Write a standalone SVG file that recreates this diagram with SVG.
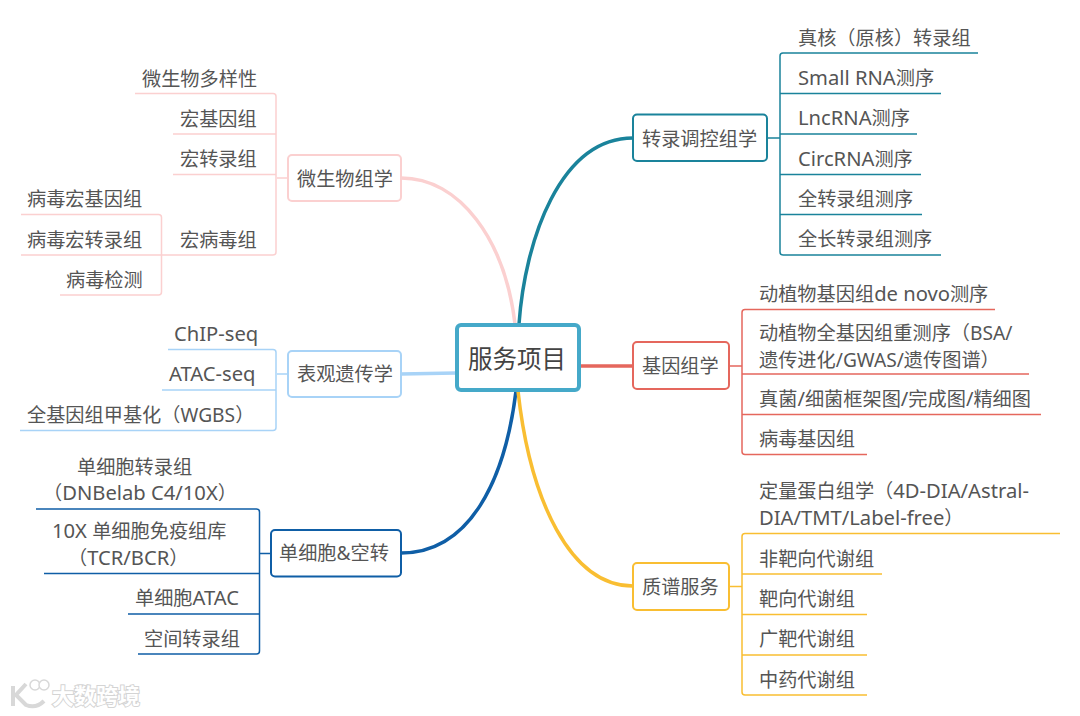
<svg xmlns="http://www.w3.org/2000/svg" width="1080" height="716" viewBox="0 0 1080 716">
<style>
text{font-family:"Noto Sans","Noto Sans CJK SC",sans-serif;font-size:19.2px;fill:#555}
tspan{font-size:20.2px}
.b{fill:#fff;stroke-width:2}
.l{fill:none;stroke-width:1.5}
.m{fill:none;stroke-width:3.5;stroke-linecap:round}
.pink{stroke:#fbd0d0}.sky{stroke:#a8d3f7}.navy{stroke:#0f5ea6}.teal{stroke:#1a839b}.red{stroke:#e5675d}.gold{stroke:#f9be32}
</style>
<rect width="1080" height="716" fill="#fff"/>
<g id="connectors">
<path class="m pink" d="M515 324C505 240 460 178 401 178"/>
<path class="m sky" d="M456 373L401 374"/>
<path class="m navy" d="M516 391C505 480 470 553 401 553"/>
<path class="m teal" d="M519 324C525 240 560 138 633 138"/>
<path class="m red" d="M580 366L633 366"/>
<path class="m gold" d="M518 391C530 500 570 586 633 586"/>
<path class="l pink" d="M135 93.5H273a3 3 0 0 1 3 3V252a3 3 0 0 1-3 3H21M173 134H276M173 174.500H276M277 178H288M21 214.500H158.500a3 3 0 0 1 3 3V292a3 3 0 0 1-3 3H60"/>
<path class="l sky" d="M168 349.500H273a3 3 0 0 1 3 3V427.500a3 3 0 0 1-3 3H20M162 390H276M277 374H288"/>
<path class="l navy" d="M36 509H256.500a3 3 0 0 1 3 3V651a3 3 0 0 1-3 3H138M44 573.500H259M128 614H259M260 553.500H271"/>
<path class="l teal" d="M978 53H783a3 3 0 0 0-3 3V252a3 3 0 0 0 3 3H941M941 93.500H780M917 134H780M921 174.500H780M922 214.500H780M767 138H780"/>
<path class="l red" d="M995 309.500H745a3 3 0 0 0-3 3V451.500a3 3 0 0 0 3 3H867M1029 374H742M1041 414.500H742M729 366H742"/>
<path class="l gold" d="M1060 533.500H745a3 3 0 0 0-3 3V692a3 3 0 0 0 3 3H867M882 574H742M867 614.500H742M867 655H742M729 586.500H742"/>
</g>
<g id="root"><rect x="457" y="325" width="122" height="65" rx="4" fill="#fff" stroke="#45a9c9" stroke-width="4"/><text x="468" y="368" style="font-size:24.500px;fill:#444">服务项目</text></g>
<g id="n-microbe"><rect class="b pink" x="288" y="155" width="113" height="46" rx="4"/><text x="297" y="186">微生物组学</text></g>
<g id="n-micro-1"><text x="142" y="85.500">微生物多样性</text></g>
<g id="n-micro-2"><text x="180" y="125.500">宏基因组</text></g>
<g id="n-micro-3"><text x="180" y="166">宏转录组</text></g>
<g id="n-micro-4"><text x="180" y="246.500">宏病毒组</text></g>
<g id="n-virus-1"><text x="27" y="206">病毒宏基因组</text></g>
<g id="n-virus-2"><text x="27" y="246.500">病毒宏转录组</text></g>
<g id="n-virus-3"><text x="66" y="287">病毒检测</text></g>
<g id="n-epi"><rect class="b sky" x="288" y="351" width="113" height="46" rx="4"/><text x="297" y="381">表观遗传学</text></g>
<g id="n-epi-1"><text x="174" y="341"><tspan>ChIP-seq</tspan></text></g>
<g id="n-epi-2"><text x="169" y="381"><tspan>ATAC-seq</tspan></text></g>
<g id="n-epi-3"><text x="27" y="422">全基因组甲基化（WGBS）</text></g>
<g id="n-sc"><rect class="b navy" x="271" y="530" width="130" height="46.500" rx="4"/><text x="279" y="560">单细胞&amp;空转</text></g>
<g id="n-sc-1"><text x="77" y="474">单细胞转录组</text><text x="43" y="500">（<tspan>DNBelab C4/10X</tspan>）</text></g>
<g id="n-sc-2"><text x="52" y="538"><tspan>10X </tspan>单细胞免疫组库</text><text x="68" y="565">（<tspan>TCR/BCR</tspan>）</text></g>
<g id="n-sc-3"><text x="135" y="605">单细胞<tspan>ATAC</tspan></text></g>
<g id="n-sc-4"><text x="144" y="646">空间转录组</text></g>
<g id="n-trans"><rect class="b teal" x="633" y="114.500" width="134" height="46.500" rx="4"/><text x="642" y="146">转录调控组学</text></g>
<g id="n-trans-1"><text x="798" y="45">真核（原核）转录组</text></g>
<g id="n-trans-2"><text x="798" y="84.500"><tspan>Small RNA</tspan>测序</text></g>
<g id="n-trans-3"><text x="798" y="125"><tspan>LncRNA</tspan>测序</text></g>
<g id="n-trans-4"><text x="798" y="166"><tspan>CircRNA</tspan>测序</text></g>
<g id="n-trans-5"><text x="798" y="206">全转录组测序</text></g>
<g id="n-trans-6"><text x="798" y="246">全长转录组测序</text></g>
<g id="n-genome"><rect class="b red" x="633" y="342" width="96" height="47" rx="4"/><text x="642" y="373">基因组学</text></g>
<g id="n-genome-1"><text x="759" y="301">动植物基因组<tspan>de novo</tspan>测序</text></g>
<g id="n-genome-2"><text x="759" y="339.500">动植物全基因组重测序（BSA/</text><text x="759" y="366.500">遗传进化/GWAS/遗传图谱）</text></g>
<g id="n-genome-3"><text x="759" y="406">真菌<tspan>/</tspan>细菌框架图<tspan>/</tspan>完成图<tspan>/</tspan>精细图</text></g>
<g id="n-genome-4"><text x="759" y="446">病毒基因组</text></g>
<g id="n-ms"><rect class="b gold" x="633" y="563" width="96" height="47" rx="4"/><text x="642" y="594">质谱服务</text></g>
<g id="n-ms-1"><text x="759" y="498">定量蛋白组学（<tspan>4D-DIA/Astral-</tspan></text><text x="759" y="525"><tspan>DIA/TMT/Label-free</tspan>）</text></g>
<g id="n-ms-2"><text x="759" y="565.500">非靶向代谢组</text></g>
<g id="n-ms-3"><text x="759" y="606">靶向代谢组</text></g>
<g id="n-ms-4"><text x="759" y="646">广靶代谢组</text></g>
<g id="n-ms-5"><text x="759" y="686.500">中药代谢组</text></g>
<g id="watermark">
<path d="M13 686V706M26 684L16 695L26 705Q36 709 44 701" fill="none" stroke="#d8d8d8" stroke-width="4"/>
<circle cx="35" cy="685" r="5" fill="#fff" stroke="#d8d8d8" stroke-width="1.500"/><circle cx="44" cy="685" r="5" fill="#fff" stroke="#d8d8d8" stroke-width="1.500"/>
<text x="52" y="704" style="font-size:22px;fill:#fff;stroke:#d4d4d4;stroke-width:2px;paint-order:stroke;font-weight:700">大数跨境</text>
</g>
</svg>
